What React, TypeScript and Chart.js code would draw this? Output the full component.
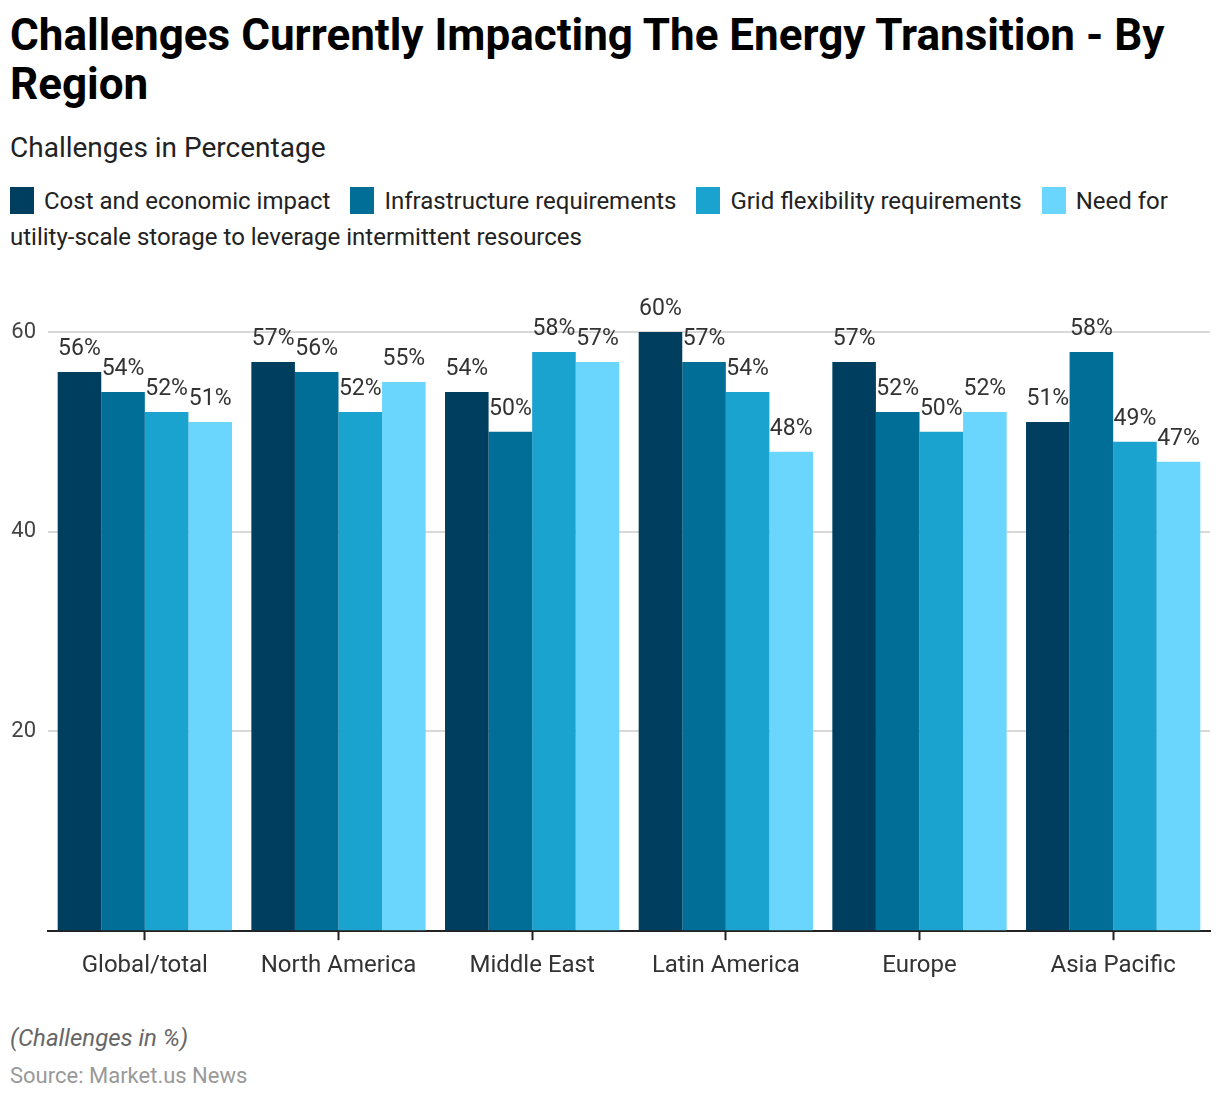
import React, { useEffect, useRef } from "react";
import { Chart, registerables } from "chart.js";

Chart.register(...registerables);

const categories = ["Global/total", "North America", "Middle East", "Latin America", "Europe", "Asia Pacific"];
const seriesNames = [
  "Cost and economic impact",
  "Infrastructure requirements",
  "Grid flexibility requirements",
  "Need for utility-scale storage to leverage intermittent resources",
];
const costValues = [56, 57, 54, 60, 57, 51];
const infraValues = [54, 56, 50, 57, 52, 58];
const gridValues = [52, 52, 58, 54, 50, 49];
const storageValues = [51, 55, 57, 48, 52, 47];
const seriesColors = ["#003e60", "#006e97", "#1aa3cf", "#6ad6fe"];
const yTicks = [0, 20, 40, 60];

const FONT = "Roboto, 'Noto Sans', sans-serif";

const valueLabelPlugin = {
  id: "valueLabels",
  afterDatasetsDraw(chart: any) {
    const ctx = chart.ctx;
    ctx.save();
    ctx.font = `23px ${FONT}`;
    ctx.fillStyle = "#333333";
    ctx.textAlign = "center";
    ctx.textBaseline = "alphabetic";
    chart.data.datasets.forEach((ds: any, di: number) => {
      const meta = chart.getDatasetMeta(di);
      meta.data.forEach((bar: any, i: number) => {
        ctx.fillText(`${ds.data[i]}%`, bar.x, bar.y - 17);
      });
    });
    ctx.restore();
  },
};

export default function App() {
  const canvasRef = useRef<HTMLCanvasElement | null>(null);

  useEffect(() => {
    if (!canvasRef.current) return;
    const values = [costValues, infraValues, gridValues, storageValues];
    const chart = new Chart(canvasRef.current, {
      type: "bar",
      data: {
        labels: categories,
        datasets: seriesNames.map((name, i) => ({
          label: name,
          data: values[i],
          backgroundColor: seriesColors[i],
          borderWidth: 0,
          categoryPercentage: 0.9,
          barPercentage: 1.0,
        })),
      },
      options: {
        animation: false,
        responsive: true,
        maintainAspectRatio: false,
        layout: { padding: { top: 61, left: 0, right: 2, bottom: 0 } },
        plugins: {
          legend: { display: false },
          tooltip: { enabled: false },
          title: { display: false },
        },
        scales: {
          x: {
            grid: {
              offset: false,
              drawOnChartArea: false,
              drawTicks: true,
              tickLength: 9,
              tickWidth: 2,
              tickColor: "#222222",
            },
            border: { display: true, color: "#222222", width: 2 },
            ticks: {
              color: "#333333",
              font: { family: FONT, size: 24 },
              padding: 11,
              maxRotation: 0,
            },
          },
          y: {
            min: yTicks[0],
            max: yTicks[yTicks.length - 1],
            grid: { color: "#d9d9d9", lineWidth: 2, drawTicks: false },
            border: { display: false },
            afterBuildTicks: (axis: any) => {
              axis.ticks = yTicks.map((v) => ({ value: v }));
            },
            afterFit: (axis: any) => {
              axis.width = 40;
            },
            ticks: {
              color: "#444444",
              font: { family: FONT, size: 22 },
              padding: 12,
              callback: (v: any) => (v === 0 ? "" : String(v)),
            },
          },
        },
      },
      plugins: [valueLabelPlugin],
    });
    return () => chart.destroy();
  }, []);

  return (
    <div style={{ fontFamily: FONT, paddingLeft: 2, width: 1202 }}>
      <div style={{ fontSize: 44, fontWeight: 700, lineHeight: "49px", color: "#000", marginTop: 3 }}>
        Challenges Currently Impacting The Energy Transition - By Region
      </div>
      <div style={{ fontSize: 28, lineHeight: "36px", color: "#222", marginTop: 21 }}>Challenges in Percentage</div>
      <div style={{ fontSize: 24, lineHeight: "36px", color: "#222", marginTop: 17, paddingRight: 20 }}>
        {seriesNames.map((name, i) => (
          <span key={name}>
            <span
              style={{
                display: "inline-block",
                width: 24,
                height: 27,
                background: seriesColors[i],
                verticalAlign: "-5px",
                marginRight: 10,
              }}
            />
            {name}
            {i < seriesNames.length - 1 ? <span style={{ display: "inline-block", width: 20 }} /> : null}
          </span>
        ))}
      </div>
      <div style={{ position: "relative", height: 720, marginLeft: -2, marginTop: 16 }}>
        <canvas ref={canvasRef} />
      </div>
      <div style={{ fontSize: 24, fontStyle: "italic", color: "#666", lineHeight: "32px", marginTop: 31 }}>
        (Challenges in %)
      </div>
      <div style={{ fontSize: 22, color: "#999", lineHeight: "30px", marginTop: 7 }}>Source: Market.us News</div>
    </div>
  );
}
